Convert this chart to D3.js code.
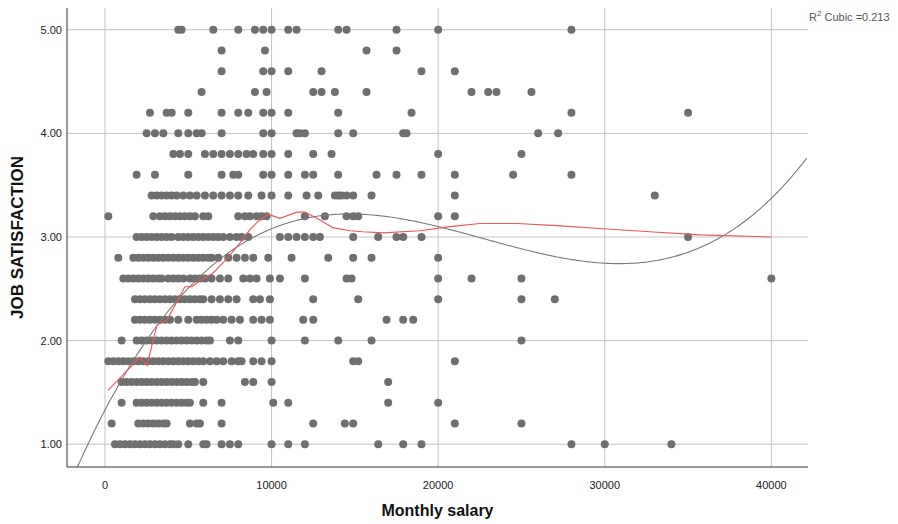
<!DOCTYPE html>
<html>
<head>
<meta charset="utf-8">
<script src="https://cdn.jsdelivr.net/npm/d3@7"></script>
<style>
  body { margin: 0; background: #fff; }
  svg { font-family: "Liberation Sans", Arial, sans-serif; }
</style>
</head>
<body>
<div id="chart"></div>
<script>
// satisfaction levels and the monthly salaries observed at each level
const satLevels = [5.0, 4.8, 4.6, 4.4, 4.2, 4.0, 3.8, 3.6, 3.4, 3.2, 3.0, 2.8, 2.6, 2.4, 2.2, 2.0, 1.8, 1.6, 1.4, 1.2, 1.0];

const sal500 = [4400, 4600, 6500, 8000, 9000, 9500, 10000, 11000, 11500, 14000, 14500, 17500, 20000, 28000];
const sal480 = [7000, 9600, 15700, 17500];
const sal460 = [7000, 9500, 10000, 11000, 13000, 19000, 21000];
const sal440 = [5800, 9000, 9700, 12500, 13000, 13800, 15700, 22000, 23000, 23500, 25600];
const sal420 = [2700, 3700, 4000, 5000, 7000, 8000, 8600, 9500, 10000, 11000, 14000, 18400, 28000, 35000];
const sal400 = [2500, 3000, 3500, 4400, 5000, 5500, 5800, 7000, 9500, 10000, 11500, 11700, 12000, 14000, 14900, 17900, 18100, 26000, 27200];
const sal380 = [4100, 4500, 5000, 6000, 6500, 7000, 7500, 8000, 8500, 8900, 9500, 10000, 11000, 12500, 13600, 20000, 25000];
const sal360 = [1900, 3000, 5000, 7000, 7700, 8000, 9500, 10000, 11000, 12000, 12500, 14000, 16300, 17500, 19000, 21000, 24500, 28000];
const sal340 = [2800, 3100, 3400, 3700, 4000, 4300, 4700, 5100, 5500, 6000, 6500, 7000, 7500, 8000, 8600, 9400, 10000, 11000, 12100, 12800, 13800, 14000, 14200, 14500, 14900, 16000, 21000, 33000];
const sal320 = [200, 2900, 3300, 3600, 3900, 4200, 4500, 4800, 5100, 5400, 5900, 6200, 8000, 8400, 8700, 9100, 9400, 9700, 12000, 13200, 14500, 14900, 15200, 20000, 21000];
const sal300 = [1900, 2200, 2500, 2800, 3100, 3400, 3700, 4000, 4400, 4700, 5000, 5300, 5600, 5900, 6200, 6500, 6800, 7100, 7500, 7900, 8200, 8600, 10500, 11000, 11500, 12000, 12500, 12900, 14900, 16400, 17500, 17900, 19000, 35000];
const sal280 = [800, 1700, 2000, 2300, 2600, 2900, 3200, 3500, 3800, 4100, 4400, 4700, 5000, 5300, 5600, 5900, 6200, 6400, 6800, 7400, 7900, 8400, 8900, 9800, 11200, 13400, 14900, 16000, 20000];
const sal260 = [1100, 1400, 1700, 2000, 2300, 2600, 2900, 3200, 3400, 3800, 4100, 4400, 4700, 5100, 5400, 5700, 6000, 6400, 6900, 7400, 8300, 8700, 9100, 9900, 10500, 12000, 14500, 14800, 20000, 22000, 25000, 40000];
const sal240 = [1800, 2100, 2400, 2700, 3000, 3300, 3600, 3900, 4200, 4500, 4800, 5100, 5400, 5700, 5900, 6400, 6900, 7400, 7900, 8900, 9300, 9900, 12500, 15200, 20000, 25000, 27000];
const sal220 = [1800, 2100, 2400, 2700, 3000, 3300, 3600, 3900, 4400, 5000, 5500, 5800, 6100, 6400, 6700, 7100, 7600, 8100, 8900, 9400, 9900, 11900, 12500, 16900, 17900, 18500];
const sal200 = [1000, 1900, 2200, 2500, 2800, 3100, 3400, 3700, 4000, 4300, 4600, 4900, 5200, 5500, 5800, 6100, 6300, 7500, 8000, 10000, 12000, 14000, 16000, 25000];
const sal180 = [200, 500, 800, 1100, 1400, 1700, 2000, 2300, 2600, 2900, 3200, 3500, 3800, 4100, 4400, 4700, 5000, 5300, 5600, 5900, 6300, 6700, 7100, 7600, 8000, 8200, 8900, 9400, 10000, 14900, 15200, 21000];
const sal160 = [1000, 1300, 1600, 1900, 2200, 2500, 2800, 3100, 3400, 3700, 4000, 4300, 4600, 4900, 5200, 5400, 5900, 8400, 8900, 10000, 17000];
const sal140 = [1000, 1900, 2200, 2500, 2800, 3100, 3400, 3700, 4000, 4300, 4600, 4900, 5100, 5900, 7000, 10100, 11000, 17000, 20000];
const sal120 = [400, 2000, 2300, 2600, 2900, 3200, 3500, 3700, 5100, 5500, 5700, 7000, 12500, 14400, 14900, 21000, 25000];
const sal100 = [600, 900, 1200, 1500, 1800, 2100, 2400, 2700, 3000, 3300, 3600, 3900, 4100, 4400, 5000, 5900, 6100, 7000, 7500, 8000, 10000, 11000, 12000, 16400, 17900, 19000, 28000, 30000, 34000];

const salaryRows = [sal500, sal480, sal460, sal440, sal420, sal400, sal380, sal360, sal340, sal320, sal300,
                    sal280, sal260, sal240, sal220, sal200, sal180, sal160, sal140, sal120, sal100];

// cubic fit (salary in units of 10000): a + b t + c t^2 + d t^3
const cubicCoef = [1.33, 3.066, -1.542, 0.2258];
const rSquared = "0.213";

// loess-style smoother
const loessSalary = [180, 1320, 2100, 2520, 3120, 3720, 4200, 4800, 5220, 5700, 6480, 7320, 8100, 8700, 9120, 9780,
                     10500, 11520, 12000, 12720, 13680, 14700, 15480, 16680, 18900, 20700, 22500, 24720, 27120, 29880, 32700, 35700, 40000];
const loessSat = [1.52, 1.71, 1.84, 1.76, 2.15, 2.20, 2.34, 2.52, 2.52, 2.58, 2.65, 2.79, 2.94, 3.07, 3.14, 3.22,
                  3.18, 3.24, 3.24, 3.18, 3.09, 3.06, 3.05, 3.04, 3.06, 3.10, 3.13, 3.13, 3.11, 3.08, 3.05, 3.02, 3.00];

const xTicks = [0, 10000, 20000, 30000, 40000];
const yTicks = [1, 2, 3, 4, 5];

const W = 898, H = 524;
const plot = {left: 67, right: 808, top: 8, bottom: 467};

const x = d3.scaleLinear().domain([-2280, 42200]).range([plot.left, plot.right]);
const y = d3.scaleLinear().domain([0.78, 5.21]).range([plot.bottom, plot.top]);

const svg = d3.select("#chart").append("svg")
    .attr("width", W)
    .attr("height", H);

svg.append("defs").append("clipPath").attr("id", "clip")
  .append("rect")
    .attr("x", plot.left).attr("y", plot.top)
    .attr("width", plot.right - plot.left).attr("height", plot.bottom - plot.top);

// grid
svg.append("g")
  .selectAll("line")
  .data(yTicks)
  .join("line")
    .attr("x1", plot.left).attr("x2", plot.right)
    .attr("y1", d => y(d)).attr("y2", d => y(d))
    .attr("stroke", "#c4c4c4").attr("stroke-width", 1);

svg.append("g")
  .selectAll("line")
  .data(xTicks)
  .join("line")
    .attr("x1", d => x(d)).attr("x2", d => x(d))
    .attr("y1", plot.top).attr("y2", plot.bottom)
    .attr("stroke", "#c4c4c4").attr("stroke-width", 1);

// points
const points = [];
satLevels.forEach((s, i) => salaryRows[i].forEach(v => points.push([v, s])));

svg.append("g")
  .selectAll("circle")
  .data(points)
  .join("circle")
    .attr("cx", d => x(d[0]))
    .attr("cy", d => y(d[1]))
    .attr("r", 4)
    .attr("fill", "#6f6f6f");

// cubic curve
const cubic = t => cubicCoef[0] + cubicCoef[1] * t + cubicCoef[2] * t * t + cubicCoef[3] * t * t * t;
const curvePts = d3.range(-2280, 42201, 100).map(v => [v, cubic(v / 10000)]);

svg.append("path")
  .datum(curvePts)
  .attr("clip-path", "url(#clip)")
  .attr("fill", "none")
  .attr("stroke", "#7a7a7a")
  .attr("stroke-width", 1.1)
  .attr("d", d3.line().x(d => x(d[0])).y(d => y(d[1])));

// loess curve
svg.append("path")
  .datum(loessSalary.map((v, i) => [v, loessSat[i]]))
  .attr("fill", "none")
  .attr("stroke", "#e8585a")
  .attr("stroke-width", 1.1)
  .attr("d", d3.line().x(d => x(d[0])).y(d => y(d[1])));

// axes lines
svg.append("line")
  .attr("x1", plot.left).attr("x2", plot.left)
  .attr("y1", plot.top).attr("y2", plot.bottom)
  .attr("stroke", "#333").attr("stroke-width", 1);
svg.append("line")
  .attr("x1", plot.left).attr("x2", plot.right)
  .attr("y1", plot.bottom).attr("y2", plot.bottom)
  .attr("stroke", "#333").attr("stroke-width", 1);

// tick labels
svg.append("g")
  .selectAll("text")
  .data(yTicks)
  .join("text")
    .attr("x", plot.left - 5)
    .attr("y", d => y(d) + 4)
    .attr("text-anchor", "end")
    .attr("font-size", 11)
    .attr("fill", "#222")
    .text(d => d3.format(".2f")(d));

svg.append("g")
  .selectAll("text")
  .data(xTicks)
  .join("text")
    .attr("x", d => x(d))
    .attr("y", plot.bottom + 22)
    .attr("text-anchor", "middle")
    .attr("font-size", 11)
    .attr("fill", "#222")
    .text(d => d);

// axis titles
svg.append("text")
  .attr("x", (plot.left + plot.right) / 2)
  .attr("y", 516)
  .attr("text-anchor", "middle")
  .attr("font-size", 16)
  .attr("font-weight", "bold")
  .attr("fill", "#111")
  .text("Monthly salary");

svg.append("text")
  .attr("transform", `translate(23,${(plot.top + plot.bottom) / 2}) rotate(-90)`)
  .attr("text-anchor", "middle")
  .attr("font-size", 17)
  .attr("font-weight", "bold")
  .attr("fill", "#111")
  .text("JOB SATISFACTION");

// R^2 label
const r2 = svg.append("text")
  .attr("x", 809)
  .attr("y", 21)
  .attr("font-size", 11)
  .attr("fill", "#555");
r2.append("tspan").text("R");
r2.append("tspan").attr("dy", -5).attr("font-size", 8).text("2");
r2.append("tspan").attr("dy", 5).text(" Cubic =" + rSquared);
</script>
</body>
</html>
